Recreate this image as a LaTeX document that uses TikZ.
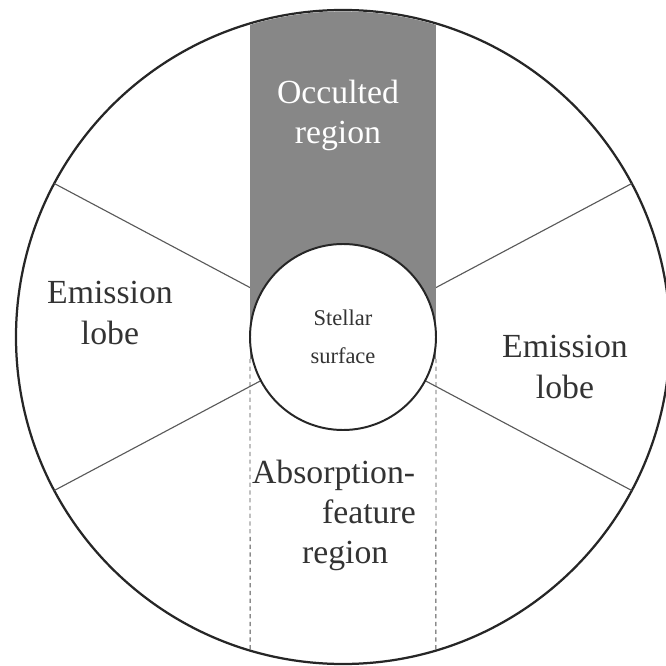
\documentclass[tikz,border=0pt]{standalone}
\usepackage{fontspec}
\setmainfont{Liberation Serif}

\begin{document}
\begin{tikzpicture}[rim/.style={circle, draw=black!85, line width=1.6pt, inner sep=0pt, outer sep=0pt},
	spoke/.style={draw=black!65, line width=0.8pt},
	dashline/.style={draw=black!70, line width=0.6pt, dash pattern=on 3pt off 2.5pt},
	regiontext/.style={align=center, text=black!80, font=\fontsize{24}{28.5}\selectfont}]
			\useasboundingbox (-8.575,-8.225) rectangle (8.075,8.425);
			
			\node[rim, minimum size=16.35cm] (disk) at (0,0) {};
			
			\foreach \a in {28,152,208,332}
				\path[spoke] (disk.center) -- (disk.\a);
			
			\begin{scope}
				\clip (0,0) circle (8.14);
				\fill[black!47] (-2.325,-0.55) rectangle (2.325,8.5);
			\end{scope}
			
			\node[rim, fill=white, line width=1.4pt, minimum size=4.65cm, align=center, text=black!80, font=\fontsize{16}{27}\selectfont] (star) at (0,0){Stellar\\surface};
			
			\coordinate (bl) at (-2.325,-0.55);
			\coordinate (br) at (2.325,-0.55);
			\coordinate (blb) at (253.5:8.175);
			\coordinate (brb) at (286.5:8.175);
			\path[dashline] (bl) -- (blb);
			\path[dashline] (br) -- (brb);
			
			\node[regiontext, text=white] (occ) at (-0.125,5.55){Occulted\\region};
			\node[regiontext] (lobeL) at (-5.825,0.6){Emission\\lobe};
			\node[regiontext] (lobeR) at (5.55,-0.75){Emission\\lobe};
			\node[regiontext, align=left, anchor=west, inner sep=0pt] (absn) at (-2.28,-4.45){Absorption-\\\hspace*{1.75cm}feature\\\hspace*{1.25cm}region};
			\end{tikzpicture}
\end{document}
